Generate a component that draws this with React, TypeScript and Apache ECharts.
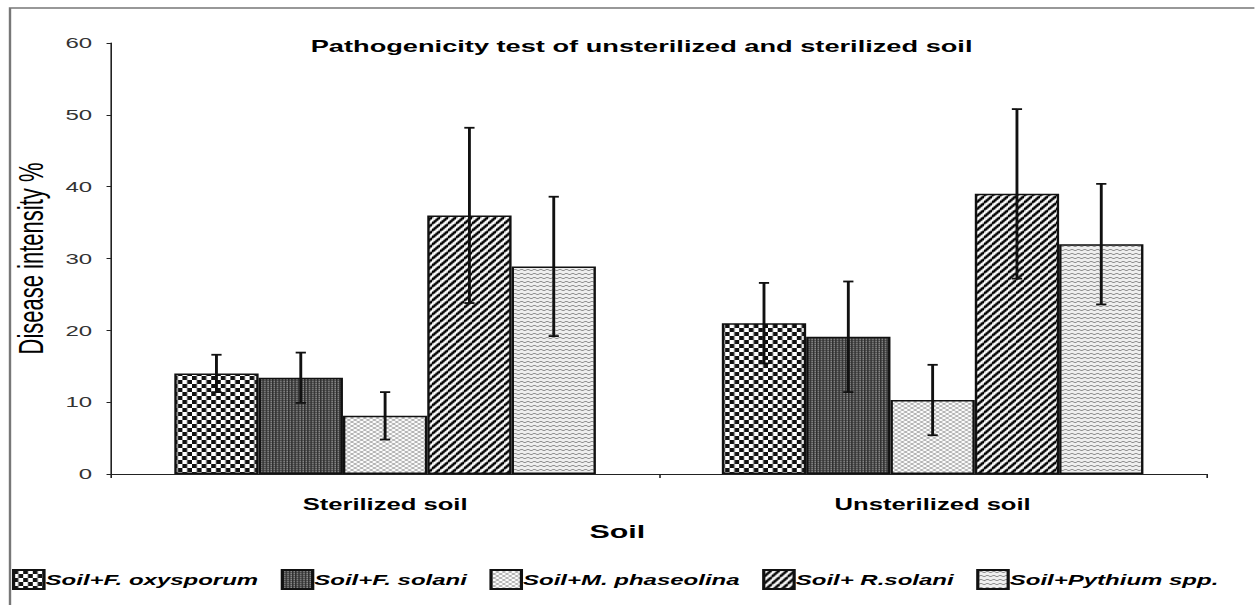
import React, { useEffect, useRef } from "react";
import * as echarts from "echarts";

const categories = ["Sterilized soil", "Unsterilized soil"];
const seriesNames = [
  "Soil+F. oxysporum",
  "Soil+F. solani",
  "Soil+M. phaseolina",
  "Soil+ R.solani",
  "Soil+Pythium spp.",
];
const oxysporum = [14.0, 21.0];
const solani = [13.4, 19.1];
const phaseolina = [8.1, 10.3];
const rsolani = [36.0, 39.0];
const pythium = [28.9, 32.0];
const oxysporumSD = [2.6, 5.6];
const solaniSD = [3.5, 7.7];
const phaseolinaSD = [3.3, 4.9];
const rsolaniSD = [12.2, 11.8];
const pythiumSD = [9.7, 8.4];

const SX = 1.6;
const W = 1255 / SX;
const H = 605;
const FONT = "'Liberation Sans', Arial, sans-serif";

function tile(w: number, h: number, draw: (c: CanvasRenderingContext2D) => void) {
  const cv = document.createElement("canvas");
  cv.width = w;
  cv.height = h;
  const c = cv.getContext("2d")!;
  draw(c);
  return { image: cv, repeat: "repeat", imageWidth: w, imageHeight: h } as any;
}

function makePatterns() {
  const checker = tile(6, 8, (c) => {
    c.fillStyle = "#ffffff";
    c.fillRect(0, 0, 6, 8);
    c.fillStyle = "#111111";
    c.fillRect(0, 0, 3, 4);
    c.fillRect(3, 4, 3, 4);
  });
  const dark = tile(2, 2, (c) => {
    c.fillStyle = "#5a5a5a";
    c.fillRect(0, 0, 2, 2);
    c.fillStyle = "#2e2e2e";
    c.fillRect(0, 0, 1, 2);
    c.fillStyle = "#8a8a8a";
    c.fillRect(1, 1, 1, 1);
  });
  const lattice = tile(4, 4, (c) => {
    c.fillStyle = "#ffffff";
    c.fillRect(0, 0, 4, 4);
    c.strokeStyle = "#a0a0a0";
    c.lineWidth = 0.8;
    c.beginPath();
    c.moveTo(0, 2);
    c.lineTo(2, 0);
    c.lineTo(4, 2);
    c.lineTo(2, 4);
    c.closePath();
    c.stroke();
  });
  const diag = tile(5, 7, (c) => {
    c.fillStyle = "#ffffff";
    c.fillRect(0, 0, 5, 7);
    c.strokeStyle = "#000000";
    c.lineWidth = 2;
    c.beginPath();
    for (let k = -1; k <= 1; k++) {
      c.moveTo(k * 5, 7);
      c.lineTo((k + 1) * 5, 0);
    }
    c.stroke();
  });
  const zig = tile(4, 4, (c) => {
    c.fillStyle = "#efefef";
    c.fillRect(0, 0, 4, 4);
    c.strokeStyle = "#8f8f8f";
    c.lineWidth = 1;
    c.beginPath();
    c.moveTo(0, 3);
    c.lineTo(2, 1);
    c.lineTo(4, 3);
    c.stroke();
  });
  return [checker, dark, lattice, diag, zig];
}

const BAR_GAP = 0.23;

function errSeries(idx: number, means: number[], sds: number[]) {
  return {
    type: "custom",
    name: "err" + idx,
    z: 10,
    encode: { x: 0, y: [1, 2] },
    data: means.map((m, i) => [i, m - sds[i], m + sds[i]]),
    renderItem: (params: any, api: any) => {
      const ci = api.value(0);
      const lo = api.coord([ci, api.value(1)]);
      const hi = api.coord([ci, api.value(2)]);
      const band = api.size([1, 0])[0];
      const bw = (band * (1 - BAR_GAP)) / 5;
      const x = lo[0] + (idx - 2) * bw;
      const cap = 3.2;
      const st = { stroke: "#111111", lineWidth: 1.8 };
      return {
        type: "group",
        children: [
          { type: "line", shape: { x1: x, y1: hi[1], x2: x, y2: lo[1] }, style: st },
          { type: "line", shape: { x1: x - cap, y1: hi[1], x2: x + cap, y2: hi[1] }, style: st },
          { type: "line", shape: { x1: x - cap, y1: lo[1], x2: x + cap, y2: lo[1] }, style: st },
        ],
      };
    },
  };
}

export default function App() {
  const ref = useRef<HTMLDivElement>(null);
  useEffect(() => {
    if (!ref.current) return;
    const chart = echarts.init(ref.current, undefined, { renderer: "svg" });
    const pats = makePatterns();
    const values = [oxysporum, solani, phaseolina, rsolani, pythium];
    const sds = [oxysporumSD, solaniSD, phaseolinaSD, rsolaniSD, pythiumSD];
    const bars = values.map((v, i) => ({
      type: "bar",
      name: seriesNames[i],
      data: v,
      barGap: "0%",
      barCategoryGap: BAR_GAP * 100 + "%",
      itemStyle: { color: pats[i], borderColor: "#111111", borderWidth: 1.5 },
    }));
    const errs = values.map((v, i) => errSeries(i, v, sds[i]));
    chart.setOption({
      animation: false,
      backgroundColor: "#ffffff",
      title: {
        text: "Pathogenicity test of unsterilized and sterilized soil",
        left: 396,
        textAlign: "center",
        top: 33,
        textStyle: { fontFamily: FONT, fontWeight: "bold", fontSize: 17, color: "#000" },
      },
      legend: {
        data: seriesNames,
        left: 7.5,
        top: 569,
        padding: 0,
        itemWidth: 19,
        itemHeight: 19,
        itemGap: 14,
        icon: "rect",
        textStyle: {
          fontFamily: FONT,
          fontWeight: "bold",
          fontStyle: "italic",
          fontSize: 15,
          color: "#000",
          padding: [0, 0, 0, -4],
        },
      },
      grid: { left: 68.75, right: W - 1207 / SX, top: 43, bottom: H - 474, containLabel: false },
      xAxis: {
        type: "category",
        data: categories,
        name: "Soil",
        nameLocation: "middle",
        nameGap: 48,
        nameTextStyle: {
          fontFamily: FONT,
          fontWeight: "bold",
          fontSize: 19,
          color: "#000",
          padding: [0, 52, 0, 0],
        },
        axisLine: { lineStyle: { color: "#222", width: 1 } },
        axisTick: { show: true, length: 4, lineStyle: { color: "#222" } },
        axisLabel: {
          fontFamily: FONT,
          fontWeight: "bold",
          fontSize: 16,
          color: "#000",
          margin: 23,
        },
      },
      yAxis: {
        type: "value",
        min: 0,
        max: 60,
        interval: 10,
        name: "Disease intensity %",
        nameLocation: "middle",
        nameGap: 23,
        nameTextStyle: { fontFamily: FONT, fontSize: 22, color: "#000" },
        axisLine: { show: true, lineStyle: { color: "#222", width: 1 } },
        axisTick: { show: true, length: 3, lineStyle: { color: "#222" } },
        splitLine: { show: false },
        axisLabel: { fontFamily: FONT, fontSize: 15, color: "#333", margin: 12 },
      },
      graphic: [
        {
          type: "rect",
          shape: { x: 10 / SX, y: 8, width: 3000, height: 3000 },
          style: { fill: "none", stroke: "#777", lineWidth: 1.5 },
          silent: true,
          z: -1,
        },
      ],
      series: [...bars, ...errs],
    });
    return () => chart.dispose();
  }, []);
  return (
    <div
      ref={ref}
      style={{
        position: "fixed",
        left: 0,
        top: 0,
        width: W,
        height: H,
        transform: `scaleX(${SX})`,
        transformOrigin: "0 0",
        background: "#fff",
      }}
    />
  );
}
